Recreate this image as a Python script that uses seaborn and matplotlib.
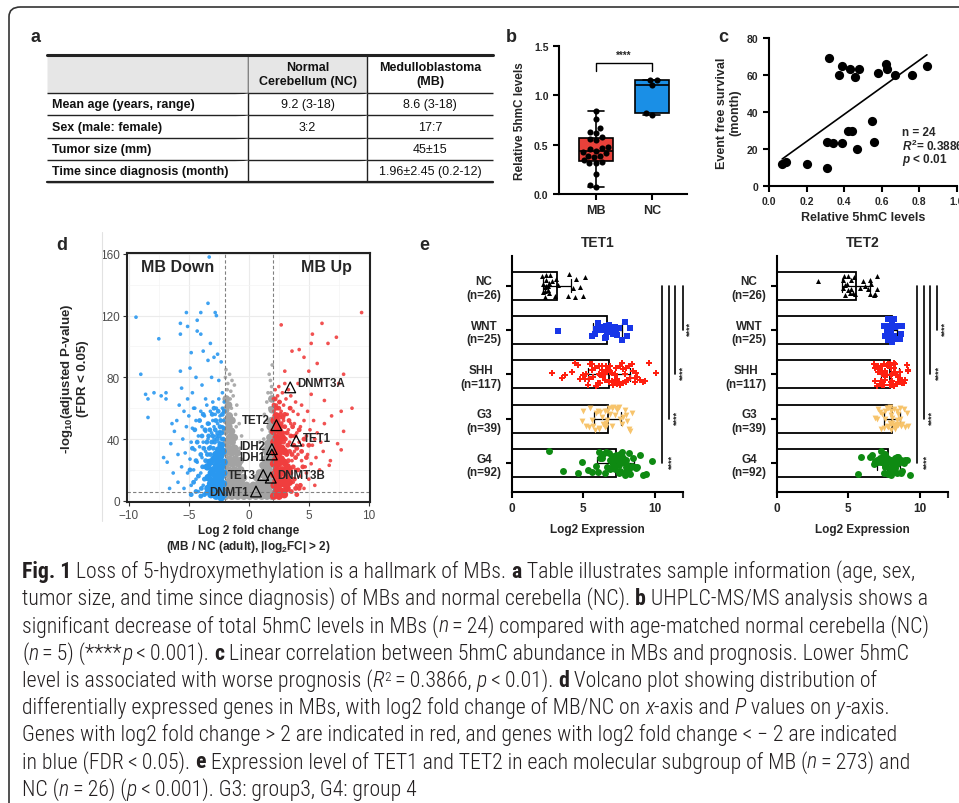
import matplotlib
matplotlib.use('Agg')
import numpy as np
import pandas as pd
import matplotlib.pyplot as plt
import seaborn as sns
from matplotlib import font_manager
from matplotlib.font_manager import FontProperties
from matplotlib.patches import FancyBboxPatch
from matplotlib.lines import Line2D

sns.set_style('ticks')
plt.rcParams['font.family'] = ['Liberation Sans', 'DejaVu Sans']
plt.rcParams['mathtext.fontset'] = 'custom'
plt.rcParams['mathtext.rm'] = 'Liberation Sans:bold'
plt.rcParams['mathtext.it'] = 'Liberation Sans:italic:bold'
plt.rcParams['mathtext.bf'] = 'Liberation Sans:bold'
np.random.seed(7)  # only for strip jitter

# ---------------- data ----------------
# a: sample table
table_cols = ['', 'Normal\nCerebellum (NC)', 'Medulloblastoma\n(MB)']
table_rows = [
    ['Mean age (years, range)', '9.2 (3-18)', '8.6 (3-18)'],
    ['Sex (male: female)', '3:2', '17:7'],
    ['Tumor size (mm)', '', '45\u00b115'],
    ['Time since diagnosis (month)', '', '1.96\u00b12.45 (0.2-12)'],
]

# b/c: 5hmC levels of MB samples and event free survival
hmc_mb = [0.07, 0.09, 0.20, 0.31, 0.31, 0.32, 0.34, 0.37, 0.39, 0.39, 0.42, 0.43,
          0.44, 0.46, 0.47, 0.48, 0.55, 0.56, 0.58, 0.62, 0.63, 0.67, 0.76, 0.84]
efs_month = [12, 13, 12, 10, 24, 69, 23, 60, 23, 65, 30, 63,
             30, 59, 20, 63, 35, 24, 61, 66, 63, 60, 60, 65]
hmc_nc = [0.80, 0.82, 1.10, 1.16, 1.16]

# d: volcano (log2FC, -log10 padj), split by point density of the reference
gray_core = [(-1.92, 3), (-1.88, 10), (-1.93, 17), (-1.87, 24), (-1.91, 31), (-1.86, 38), (-1.94, 45),
             (-1.89, 52), (-1.92, 59), (-1.88, 66), (-1.66, 6), (-1.62, 13), (-1.68, 20), (-1.63, 27),
             (-1.67, 34), (-1.61, 41), (-1.66, 48), (-1.63, 55), (-1.69, 62), (-1.41, 3), (-1.38, 10),
             (-1.43, 17), (-1.37, 24), (-1.42, 31), (-1.39, 38), (-1.44, 45), (-1.4, 52), (-1.16, 6),
             (-1.13, 13), (-1.18, 20), (-1.12, 27), (-1.17, 34), (-1.21, 41), (-0.91, 3), (-0.88, 10),
             (-0.93, 17), (-0.87, 24), (-0.95, 31), (-0.66, 6), (-0.63, 13), (-0.68, 20), (-0.72, 26),
             (-0.41, 3), (-0.38, 9), (-0.44, 15), (-0.16, 4), (-0.2, 10), (0.08, 3), (0.05, 7),
             (0.33, 4), (0.38, 10), (0.58, 3), (0.62, 9), (0.66, 15), (0.84, 6), (0.87, 12), (0.9, 18),
             (1.08, 3), (1.11, 10), (1.14, 17), (1.18, 23), (1.32, 6), (1.35, 13), (1.31, 20), (1.36, 27),
             (1.4, 33), (1.52, 3), (1.55, 10), (1.51, 17), (1.56, 24), (1.53, 31), (1.58, 37), (1.71, 6),
             (1.74, 13), (1.7, 20), (1.75, 27), (1.72, 34), (1.76, 41), (1.78, 48), (1.92, 3), (1.89, 10),
             (1.94, 17), (1.9, 24), (1.93, 31), (1.88, 38), (1.95, 45), (1.91, 52), (1.94, 59), (1.92, 66)]
gray_cloud = [(-1.9, 85), (-1.6, 82), (-1.4, 78), (-1.2, 75), (-1.75, 76), (-1.5, 71), (-1.95, 80),
              (-1.3, 68), (-1.0, 62), (-1.1, 56), (1.7, 82), (1.8, 78), (1.9, 74), (1.6, 70), (1.95, 88),
              (1.5, 64), (1.3, 56), (-0.8, 50), (-0.6, 42), (1.1, 46), (0.9, 38), (-1.55, 66), (1.85, 70),
              (-1.8, 72), (-1.45, 60), (-1.05, 48), (-0.75, 34), (1.25, 40), (1.6, 52), (1.75, 60)]
blue_core = [(-2.08, 4), (-2.12, 11), (-2.1, 18), (-2.07, 25), (-2.15, 32), (-2.3, 2), (-2.28, 8),
             (-2.33, 15), (-2.27, 22), (-2.35, 29), (-2.3, 36), (-2.5, 5), (-2.52, 12), (-2.48, 19),
             (-2.55, 26), (-2.5, 33), (-2.72, 3), (-2.7, 9), (-2.75, 16), (-2.68, 23), (-2.74, 30),
             (-2.95, 6), (-2.92, 13), (-2.97, 20), (-2.9, 27), (-3.15, 4), (-3.18, 11), (-3.12, 18),
             (-3.2, 25), (-3.4, 8), (-3.38, 15), (-3.45, 22)]
blue_mid = [(-4.9, 20), (-4.7, 34), (-4.6, 12), (-4.5, 46), (-4.4, 26), (-4.3, 38), (-4.2, 16),
            (-4.1, 52), (-4.0, 30), (-3.95, 8), (-3.9, 42), (-3.85, 22), (-3.8, 56), (-3.75, 34),
            (-3.7, 14), (-3.65, 46), (-3.6, 26), (-3.55, 5), (-3.5, 38), (-3.45, 30), (-3.4, 50),
            (-3.35, 42), (-3.3, 34), (-3.25, 46), (-3.2, 30), (-3.1, 38), (-3.05, 56), (-3.0, 42),
            (-2.95, 34), (-2.9, 60), (-2.85, 38), (-2.8, 46), (-2.75, 52), (-2.65, 40), (-2.6, 44),
            (-2.55, 58), (-2.45, 42), (-2.4, 48), (-2.35, 52), (-2.25, 44), (-2.2, 56), (-2.15, 40),
            (-2.1, 47), (-2.05, 58), (-4.8, 4), (-4.4, 6), (-4.0, 3), (-3.7, 4)]
blue_cloud = [(-9.4, 119), (-9.0, 82), (-8.6, 69), (-8.4, 66), (-8.4, 54), (-7.9, 70), (-7.5, 105),
              (-7.3, 68), (-6.9, 70), (-6.9, 66), (-7.1, 28), (-6.8, 25), (-6.5, 37), (-5.7, 108),
              (-5.7, 115), (-5.2, 122), (-5.1, 113), (-4.8, 96), (-4.0, 122), (-4.3, 117), (-4.0, 108),
              (-3.8, 97), (-3.4, 128), (-3.3, 158), (-2.8, 122), (-2.7, 120), (-4.9, 86), (-4.4, 80),
              (-5.7, 84), (-5.6, 73), (-5.4, 58), (-4.3, 110), (-3.2, 102), (-2.9, 93), (-2.6, 95),
              (-2.3, 90), (-3.4, 91), (-6.2, 45), (-6.0, 52), (-5.9, 30), (-6.3, 18), (-5.8, 62),
              (-4.7, 70), (-3.9, 75), (-3.1, 80), (-2.5, 78), (-2.2, 70), (-3.6, 66), (-4.5, 60),
              (-5.1, 66), (-5.9, 12), (-5.6, 22), (-5.5, 40), (-5.4, 8), (-5.3, 31), (-5.2, 48),
              (-5.1, 18), (-5.0, 55), (-4.9, 27), (-4.8, 38), (-4.8, 10), (-4.7, 47), (-4.6, 20),
              (-4.6, 60), (-4.5, 33), (-4.4, 14), (-4.4, 52), (-4.3, 25), (-4.2, 42), (-4.2, 6),
              (-4.1, 35), (-4.0, 18), (-4.0, 58), (-3.9, 28), (-3.9, 48), (-3.8, 10), (-3.8, 38),
              (-3.7, 22), (-3.7, 55), (-3.6, 32), (-3.6, 45), (-3.5, 15), (-3.5, 62), (-3.4, 26),
              (-3.4, 40), (-3.3, 50), (-3.3, 8), (-3.2, 35), (-3.2, 58), (-3.1, 44), (-3.0, 52),
              (-3.0, 64), (-2.9, 40), (-2.9, 48), (-2.8, 56), (-2.7, 42), (-2.7, 60), (-2.6, 50),
              (-2.5, 38), (-2.5, 66), (-2.4, 45), (-2.4, 55), (-2.3, 40), (-2.2, 48), (-2.2, 60),
              (-2.1, 52), (-2.1, 40), (-2.05, 64), (-6.4, 50), (-6.6, 8)]
red_core = [(2.08, 3), (2.12, 10), (2.1, 17), (2.07, 24), (2.14, 31), (2.1, 38), (2.06, 45), (2.12, 52),
            (2.3, 6), (2.28, 13), (2.33, 20), (2.27, 27), (2.35, 34), (2.3, 41), (2.32, 48), (2.28, 55),
            (2.52, 3), (2.5, 10), (2.55, 17), (2.48, 24), (2.53, 31), (2.5, 38), (2.56, 45), (2.74, 6),
            (2.72, 13), (2.77, 20), (2.7, 27), (2.75, 34), (2.78, 41), (2.96, 4), (2.94, 11), (2.99, 18),
            (2.92, 25), (2.97, 32), (3.18, 8), (3.15, 15), (3.2, 22), (3.38, 12), (3.35, 20)]
red_mid = [(2.1, 62), (2.2, 66), (2.3, 60), (2.45, 52), (2.5, 60), (2.6, 48), (2.65, 56), (2.7, 50),
           (2.8, 44), (2.85, 54), (2.9, 38), (3.0, 48), (3.05, 40), (3.1, 24), (3.15, 30), (3.2, 44),
           (3.25, 36), (3.3, 26), (3.35, 52), (3.4, 32), (3.5, 18), (3.5, 42), (3.55, 6), (3.6, 30),
           (3.65, 48), (3.7, 22), (3.75, 36), (3.8, 14), (3.85, 42), (3.9, 28), (4.0, 4), (4.0, 34),
           (4.1, 20), (4.2, 46), (4.3, 10), (4.4, 32), (4.5, 22), (4.6, 40), (4.8, 28), (5.0, 36),
           (3.45, 60), (3.0, 56), (2.55, 64), (4.2, 8), (3.9, 8)]
red_cloud = [(9.4, 122), (7.3, 106), (6.1, 115), (5.3, 108), (5.2, 102), (2.7, 114), (3.6, 97),
             (4.6, 93), (5.7, 89), (6.6, 102), (7.9, 82), (7.5, 76), (7.7, 58), (7.4, 37), (7.7, 33),
             (6.8, 26), (6.7, 23), (7.9, 45), (6.3, 65), (5.2, 69), (4.1, 76), (8.6, 60), (3.0, 84),
             (4.2, 98), (5.0, 84), (6.0, 78), (6.9, 55), (5.5, 40), (6.2, 32), (4.8, 18),
             (2.05, 66), (2.1, 58), (2.2, 72), (2.3, 62), (2.4, 68), (2.5, 74), (2.6, 64), (2.7, 58),
             (2.8, 70), (2.9, 62), (3.0, 76), (3.1, 66), (3.2, 56), (3.3, 72), (3.4, 60), (3.5, 50),
             (3.5, 68), (3.6, 42), (3.7, 58), (3.8, 32), (3.8, 50), (3.9, 20), (3.9, 64), (4.0, 44),
             (4.0, 10), (4.1, 30), (4.1, 56), (4.2, 38), (4.3, 16), (4.3, 48), (4.4, 26), (4.4, 62),
             (4.5, 36), (4.6, 8), (4.6, 52), (4.7, 22), (4.8, 42), (4.9, 30), (4.9, 58), (5.0, 14),
             (5.1, 46), (5.2, 24), (5.3, 36), (5.4, 52), (5.5, 10), (5.6, 28), (5.7, 44), (5.9, 20),
             (6.0, 38), (6.3, 50), (3.6, 26), (3.7, 12), (3.4, 38), (3.3, 46), (3.2, 30), (3.1, 8),
             (3.0, 44), (2.9, 52), (2.8, 48), (2.6, 54)]
nlp_cut = 6.0
genes = ['DNMT3A', 'TET2', 'TET1', 'IDH2', 'IDH1', 'TET3', 'DNMT3B', 'DNMT1']
gene_lfc = [3.45, 2.3, 3.95, 1.92, 1.92, 1.2, 1.83, 0.6]
gene_nlp = [73.5, 49, 39, 33.5, 30, 16.7, 15, 6]
gene_side = ['r', 'l', 'r', 'l', 'l', 'l', 'r', 'l']
gene_dy = [3, 4, 2, 2, -2, 0, 2, 0]

# e: TET1 / TET2 log2 expression per subgroup
group_labels = ['NC\n(n=26)', 'WNT\n(n=25)', 'SHH\n(n=117)', 'G3\n(n=39)', 'G4\n(n=92)']
tet1 = [
    [2.1, 2.2, 2.2, 2.3, 2.3, 2.3, 2.4, 2.4, 2.4, 2.5, 2.5, 2.6, 2.6, 2.7, 2.8, 3.0, 3.1, 3.2,
     3.9, 4.0, 4.3, 4.4, 4.5, 4.8, 5.0, 5.1],
    [3.2, 5.6, 5.8, 5.9, 6.0, 6.1, 6.2, 6.3, 6.4, 6.5, 6.6, 6.6, 6.7, 6.8, 6.9, 7.0, 7.1, 7.2,
     7.3, 7.4, 7.5, 7.7, 7.9, 8.1, 8.3],
    [2.8, 3.5, 3.7, 4.2, 4.4, 4.6, 4.8, 5.0, 5.1, 5.3, 5.4, 5.5, 5.6, 5.7, 5.8, 5.9, 6.0, 6.0,
     6.1, 6.2, 6.3, 6.3, 6.4, 6.5, 6.5, 6.6, 6.7, 6.7, 6.8, 6.9, 6.9, 7.0, 7.0, 7.1, 7.2, 7.2,
     7.3, 7.4, 7.4, 7.5, 7.6, 7.7, 7.8, 7.8, 7.9, 8.0, 8.1, 8.2, 8.3, 8.4, 8.5, 8.6, 8.7, 8.8,
     9.0, 9.2, 9.3, 9.6, 10.1, 5.2, 5.6, 6.2, 6.4, 6.8, 7.1, 7.6, 8.0, 8.6, 6.1, 7.3],
    [4.9, 5.0, 5.2, 5.4, 5.5, 5.6, 5.7, 5.8, 5.9, 6.0, 6.1, 6.1, 6.2, 6.3, 6.4, 6.5, 6.5, 6.6,
     6.6, 6.7, 6.7, 6.8, 6.9, 7.0, 7.0, 7.1, 7.2, 7.3, 7.4, 7.5, 7.6, 7.7, 7.8, 7.9, 8.0, 8.1,
     8.2, 8.3, 8.4],
    [2.6, 3.6, 4.6, 4.9, 5.3, 5.6, 5.9, 6.0, 6.1, 6.2, 6.3, 6.4, 6.5, 6.6, 6.7, 6.8, 6.9, 7.0,
     7.0, 7.1, 7.1, 7.2, 7.2, 7.3, 7.3, 7.4, 7.4, 7.5, 7.5, 7.6, 7.6, 7.7, 7.7, 7.8, 7.8, 7.9,
     7.9, 8.0, 8.0, 8.1, 8.1, 8.2, 8.2, 8.3, 8.4, 8.5, 8.6, 8.7, 8.8, 9.0, 9.2, 9.4, 9.8,
     7.5, 7.7, 7.9, 8.0, 7.2, 6.9, 7.4],
]
tet2 = [
    [2.9, 4.6, 4.6, 4.7, 4.8, 4.8, 4.9, 5.0, 5.0, 5.1, 5.2, 5.2, 5.3, 5.4, 5.5, 5.8, 6.0, 6.2,
     6.4, 6.5, 6.5, 6.6, 6.8, 6.9, 7.0, 7.0],
    [7.5, 7.6, 7.7, 7.7, 7.8, 7.8, 7.9, 7.9, 7.9, 8.0, 8.0, 8.0, 8.0, 8.1, 8.1, 8.1, 8.2, 8.2,
     8.3, 8.3, 8.4, 8.5, 8.6, 8.7, 8.8],
    [6.8, 6.9, 7.0, 7.1, 7.1, 7.2, 7.2, 7.3, 7.3, 7.4, 7.4, 7.5, 7.5, 7.5, 7.6, 7.6, 7.7, 7.7,
     7.7, 7.8, 7.8, 7.8, 7.9, 7.9, 7.9, 8.0, 8.0, 8.0, 8.1, 8.1, 8.1, 8.2, 8.2, 8.3, 8.3, 8.4,
     8.4, 8.5, 8.5, 8.6, 8.7, 8.8, 8.9, 9.0, 9.1, 9.2, 7.4, 7.6, 8.0, 8.2, 8.6, 9.2, 6.9, 7.0],
    [6.9, 7.1, 7.2, 7.3, 7.4, 7.5, 7.6, 7.7, 7.7, 7.8, 7.8, 7.9, 7.9, 8.0, 8.0, 8.0, 8.1, 8.1,
     8.2, 8.2, 8.3, 8.3, 8.4, 8.4, 8.5, 8.5, 8.6, 8.6, 8.7, 8.8, 8.9, 9.0, 9.1, 9.2, 7.0, 7.6,
     8.0, 8.2, 8.4],
    [5.7, 5.9, 6.5, 6.7, 6.8, 6.9, 7.0, 7.1, 7.2, 7.3, 7.3, 7.4, 7.4, 7.5, 7.5, 7.6, 7.6, 7.7,
     7.7, 7.8, 7.8, 7.9, 7.9, 8.0, 8.0, 8.1, 8.1, 8.2, 8.2, 8.3, 8.3, 8.4, 8.4, 8.5, 8.6, 8.7,
     8.8, 8.9, 9.0, 9.1, 9.3, 7.6, 7.9, 8.1, 8.4, 8.7],
]
grp_markers = ['^', 's', 'P', 'v', 'o']
grp_colors = ['black', '#1836e8', '#ff2010', '#f7c46c', '#0e8a12']
grp_sizes = [3.6, 4.2, 4.6, 4.2, 5.0]

caption_lines = [
    [('Fig. 1', 'b'), (' Loss of 5-hydroxymethylation is a hallmark of MBs. ', 'r'), ('a', 'b'),
     (' Table illustrates sample information (age, sex,', 'r')],
    [('tumor size, and time since diagnosis) of MBs and normal cerebella (NC). ', 'r'), ('b', 'b'),
     (' UHPLC-MS/MS analysis shows a', 'r')],
    [('significant decrease of total 5hmC levels in MBs (', 'r'), ('n', 'i'),
     ('\u2009=\u200924) compared with age-matched normal cerebella (NC)', 'r')],
    [('(', 'r'), ('n', 'i'), ('\u2009=\u20095) (****', 'r'), ('p', 'i'), ('\u2009<\u20090.001). ', 'r'),
     ('c', 'b'), (' Linear correlation between 5hmC abundance in MBs and prognosis. Lower 5hmC', 'r')],
    [('level is associated with worse prognosis (', 'r'), ('R', 'i'), ('2', 'sup'),
     ('\u2009=\u20090.3866, ', 'r'), ('p', 'i'), ('\u2009<\u20090.01). ', 'r'), ('d', 'b'),
     (' Volcano plot showing distribution of', 'r')],
    [('differentially expressed genes in MBs, with log2 fold change of MB/NC on ', 'r'), ('x', 'i'),
     ('-axis and ', 'r'), ('P', 'i'), (' values on ', 'r'), ('y', 'i'), ('-axis.', 'r')],
    [('Genes with log2 fold change > 2 are indicated in red, and genes with log2 fold change < \u2212 2 are indicated', 'r')],
    [('in blue (FDR\u2009<\u20090.05). ', 'r'), ('e', 'b'),
     (' Expression level of TET1 and TET2 in each molecular subgroup of MB (', 'r'), ('n', 'i'),
     ('\u2009=\u2009273) and', 'r')],
    [('NC (', 'r'), ('n', 'i'), ('\u2009=\u200926) (', 'r'), ('p', 'i'),
     ('\u2009<\u20090.001). G3: group3, G4: group 4', 'r')],
]

# ---------------- figure ----------------
W, H = 959, 804
fig = plt.figure(figsize=(W / 100, H / 100), dpi=100)
fig.patch.set_facecolor('white')


def px_axes(l, t, r, b):
    return fig.add_axes([l / W, 1 - b / H, (r - l) / W, (b - t) / H])


def bold_ticks(ax):
    for t in ax.get_xticklabels() + ax.get_yticklabels():
        t.set_fontweight('bold')


def prism_axes(ax):
    sns.despine(ax=ax)
    for s in ['left', 'bottom']:
        ax.spines[s].set_linewidth(1.5)
        ax.spines[s].set_color('black')
    ax.tick_params(width=1.5, length=4, color='black', labelsize=7.5)


# outer frame
frame = FancyBboxPatch((9 / W, -0.1), 1.2, 1.1 - 8 / H, boxstyle='round,pad=0,rounding_size=0.012',
                       transform=fig.transFigure, fill=False, ec='#333333', lw=1.2)
fig.add_artist(frame)

# panel letters
for lab, (x, y) in {'a': (30, 38), 'b': (506, 37), 'c': (718, 37), 'd': (56, 245), 'e': (419, 245)}.items():
    fig.text(x / W, 1 - y / H, lab, fontsize=13, fontweight='bold', va='center', ha='left')

# ---- a: table ----
ax_t = px_axes(47, 56, 493, 183)
ax_t.axis('off')
tab = ax_t.table(cellText=table_rows, colLabels=table_cols, colWidths=[201, 119, 126],
                 bbox=[0, 0, 1, 1], cellLoc='center')
tab.auto_set_font_size(False)
for (r, c), cell in tab.get_celld().items():
    cell.set_height(38 if r == 0 else 22)
    cell.set_linewidth(1.0)
    cell.set_edgecolor('#222222')
    cell.visible_edges = 'B' + ('R' if c < 2 else '') + ('T' if r == 0 else '')
    txt = cell.get_text()
    txt.set_fontsize(9)
    txt.set_color('#111111')
    if r == 0:
        cell.set_facecolor('#e6e6e6')
        txt.set_fontweight('bold')
        txt.set_multialignment('center')
    if c == 0:
        cell.PAD = 0.025
        txt.set_horizontalalignment('left')
        txt.set_fontweight('bold')
ax_t.axhline(1, color='#222222', lw=2.2, clip_on=False)
ax_t.axhline(0, color='#222222', lw=1.6, clip_on=False)

# ---- b: boxplot ----
ax_b = px_axes(559, 47, 687, 195)
df_b = pd.DataFrame({'group': ['MB'] * len(hmc_mb) + ['NC'] * len(hmc_nc), 'level': hmc_mb + hmc_nc})
sns.boxplot(data=df_b, x='group', y='level', hue='group', order=['MB', 'NC'],
            palette={'MB': '#e8413a', 'NC': '#1a8fe6'}, whis=(0, 100), width=0.6, linecolor='black',
            linewidth=1.2, showfliers=False, saturation=1, legend=False, ax=ax_b)
sns.swarmplot(data=df_b, x='group', y='level', order=['MB', 'NC'], color='black', size=4.4, ax=ax_b)
ax_b.set_xlim(-0.66, 1.63)
ax_b.set_ylim(0, 1.5)
ax_b.set_yticks([0, 0.5, 1.0, 1.5], ['0.0', '0.5', '1.0', '1.5'])
ax_b.plot([0, 0, 1, 1], [1.25, 1.33, 1.33, 1.25], color='black', lw=1)
ax_b.text(0.5, 1.36, '****', ha='center', va='bottom', fontsize=7, fontweight='bold')
ax_b.set_xlabel('')
ax_b.set_ylabel('Relative 5hmC levels', fontsize=8.5, fontweight='bold', labelpad=6)
prism_axes(ax_b)
ax_b.tick_params(axis='x', labelsize=9)
bold_ticks(ax_b)

# ---- c: correlation ----
ax_c = px_axes(769, 39, 957, 187)
sns.regplot(x=np.array(hmc_mb), y=np.array(efs_month), ci=None, ax=ax_c,
            scatter_kws=dict(s=44, color='black', alpha=1, linewidths=0),
            line_kws=dict(color='black', lw=1.2))
ax_c.set_xlim(0, 1.0)
ax_c.set_ylim(0, 80)
ax_c.set_xticks([0, 0.2, 0.4, 0.6, 0.8, 1.0], ['0.0', '0.2', '0.4', '0.6', '0.8', '1.0'])
ax_c.set_yticks([0, 20, 40, 60, 80])
ax_c.set_xlabel('Relative 5hmC levels', fontsize=9, fontweight='bold', labelpad=3)
ax_c.set_ylabel('Event free survival\n(month)', fontsize=9, fontweight='bold', labelpad=4)
for k, s in enumerate(['n = 24', '$R^2$= 0.3886', '$p$ < 0.01']):
    ax_c.text(0.71, 29.0 - 7.3 * k, s, fontsize=8.5, fontweight='bold', va='center', ha='left')
prism_axes(ax_c)
bold_ticks(ax_c)

# ---- d: volcano ----
ax_d = px_axes(127, 254, 370, 503)
rows = []
for grp, tier, pts in [('ns', 'core', gray_core), ('ns', 'cloud', gray_cloud),
                       ('down', 'core', blue_core), ('down', 'mid', blue_mid), ('down', 'cloud', blue_cloud),
                       ('up', 'core', red_core), ('up', 'mid', red_mid), ('up', 'cloud', red_cloud)]:
    rows += [(x, y, grp, tier) for x, y in pts]
df_v = pd.DataFrame(rows, columns=['lfc', 'nlp', 'grp', 'tier'])
vpal = {'ns': '#a3a3a3', 'down': '#2a98f0', 'up': '#f03e3e'}
ax_d.set_axisbelow(True)
ax_d.grid(which='major', color='#ebebeb', lw=0.8)
ax_d.grid(which='minor', color='#f4f4f4', lw=0.5)
for tier, size, alpha in [('core', 30, 1.0), ('mid', 12, 0.95), ('cloud', 7, 0.9)]:
    sns.scatterplot(data=df_v[df_v.tier == tier], x='lfc', y='nlp', hue='grp', palette=vpal, s=size,
                    linewidth=0, alpha=alpha, legend=False, ax=ax_d)
for v in (-2, 2):
    ax_d.axvline(v, color='#808080', lw=0.8, ls=(0, (3, 2)))
ax_d.axhline(nlp_cut, color='#808080', lw=0.8, ls=(0, (3, 2)))
ax_d.scatter(gene_lfc, gene_nlp, marker='^', s=60, facecolors='none', edgecolors='black', linewidths=0.9, zorder=5)
for g, x, y, side, dy in zip(genes, gene_lfc, gene_nlp, gene_side, gene_dy):
    ax_d.annotate(g, (x, y), xytext=(5 if side == 'r' else -5, dy), textcoords='offset points',
                  ha='left' if side == 'r' else 'right', va='center', fontsize=8.3, fontweight='bold', zorder=6)
ax_d.text(-5.9, 152, 'MB Down', ha='center', va='center', fontsize=11.5, fontweight='bold')
ax_d.text(6.5, 152, 'MB Up', ha='center', va='center', fontsize=11.5, fontweight='bold')
ax_d.set_xlim(-10.15, 10.1)
ax_d.set_ylim(-0.8, 160.6)
ax_d.set_xticks([-10, -5, 0, 5, 10])
ax_d.set_yticks([0, 40, 80, 120, 160])
ax_d.set_xticks([-7.5, -2.5, 2.5, 7.5], minor=True)
ax_d.set_yticks([20, 60, 100, 140], minor=True)
ax_d.tick_params(which='minor', length=0)
ax_d.tick_params(which='major', color='#333333', labelcolor='#4d4d4d', labelsize=8.5, length=3, width=0.8, pad=2)
for s in ax_d.spines.values():
    s.set_linewidth(1.5)
    s.set_color('#222222')
ax_d.set_xlabel('Log 2 fold change\n(MB / NC (adult), |log$_2$FC| > 2)', fontsize=8.5, fontweight='bold', labelpad=2)
ax_d.set_ylabel('-log$_{10}$(adjusted P-value)\n(FDR < 0.05)', fontsize=9.5, fontweight='bold', labelpad=8)
fig.add_artist(Line2D([102 / W, 102 / W], [1 - 233 / H, 1 - 522 / H], color='#e2e2e2', lw=0.8))


# ---- e: TET1 / TET2 ----
def expr_panel(ax, title, values, sig_x, star_x):
    rows = []
    for g, vals in zip(group_labels, values):
        rows += [(g, v) for v in vals]
    df = pd.DataFrame(rows, columns=['group', 'expr'])
    sns.barplot(data=df, x='expr', y='group', order=group_labels, color='white', edgecolor='black',
                linewidth=1.3, width=0.63, errorbar='sd', capsize=0.3, saturation=1,
                err_kws={'color': 'black', 'linewidth': 0.9}, ax=ax)
    for g, mk, col, sz in zip(group_labels, grp_markers, grp_colors, grp_sizes):
        sns.stripplot(data=df[df.group == g], x='expr', y='group', order=group_labels, marker=mk,
                      color=col, size=sz, jitter=0.27, linewidth=0, ax=ax, zorder=3)
    for i, (xl, xs) in enumerate(zip(sig_x, star_x)):
        yb = len(group_labels) - 1 - i
        ax.plot([xl, xl], [0, yb], color='black', lw=1.2, clip_on=False)
        ax.text(xs, yb - 0.05, '****', rotation=90, ha='center', va='center', fontsize=6.5,
                fontweight='bold', clip_on=False)
    ax.set_xlim(0, 12)
    ax.set_ylim(4.65, -0.67)
    ax.set_xticks([0, 5, 10])
    ax.set_xticks([12], minor=True)
    ax.set_title(title, fontsize=10, fontweight='bold', pad=7)
    ax.set_xlabel('Log2 Expression', fontsize=8.5, fontweight='bold', labelpad=6)
    ax.set_ylabel('')
    prism_axes(ax)
    ax.tick_params(which='minor', width=1.5, length=4)
    ax.tick_params(axis='both', labelsize=8.5)
    bold_ticks(ax)
    for t in ax.get_yticklabels():
        t.set_multialignment('center')


ax_e1 = px_axes(512, 257, 683, 493)
expr_panel(ax_e1, 'TET1', tet1, [10.5, 11.0, 11.46, 11.97], [11.2, 11.55, 12.0, 12.5])
ax_e2 = px_axes(777, 257, 948, 493)
expr_panel(ax_e2, 'TET2', tet2, [9.84, 10.3, 10.75, 11.2], [10.5, 10.9, 11.35, 11.8])

# ---- caption ----
renderer = fig.canvas.get_renderer()


def as_weight(w):
    return w if isinstance(w, (int, float)) else font_manager.weight_dict.get(str(w).lower(), 400)


def condensed_font(bold=False, italic=False):
    pref = ['Liberation Sans Narrow', 'Roboto Condensed', 'Open Sans Condensed', 'Noto Sans Condensed',
            'DejaVu Sans Condensed', 'DejaVu Sans']
    target = 700 if bold else 300
    found = []
    for f in font_manager.fontManager.ttflist:
        narrow = ('Narrow' in f.name or 'Condensed' in f.name or 'Condensed' in f.fname
                  or f.stretch in ('condensed', 'semi-condensed'))
        if not narrow:
            continue
        if (f.style != 'normal') != italic:
            continue
        if (as_weight(f.weight) >= 600) != bold:
            continue
        rank = next((i for i, p in enumerate(pref) if f.name.startswith(p)), len(pref))
        found.append((rank, abs(as_weight(f.weight) - target), f.fname))
    if found:
        return FontProperties(fname=sorted(found)[0][2])
    return FontProperties(family='Liberation Sans', weight='bold' if bold else 'normal',
                          style='italic' if italic else 'normal')


cap_fonts = {'r': condensed_font(), 'b': condensed_font(bold=True), 'i': condensed_font(italic=True),
             'sup': condensed_font()}


def cap_kw(style, size):
    fp = cap_fonts[style].copy()
    fp.set_size(size * (0.62 if style == 'sup' else 1))
    return dict(fontproperties=fp, color='#231f20', va='baseline', ha='left')


def run_width(txt, kw):
    a = fig.text(0, 0, 'x' + txt + 'x', **kw)
    b = fig.text(0, 0, 'xx', **kw)
    w = a.get_window_extent(renderer).width - b.get_window_extent(renderer).width
    a.remove()
    b.remove()
    return w


w1 = sum(run_width(t, cap_kw(s, 10)) for t, s in caption_lines[0])
cap_size = 10 * (915 - 22) / w1
for i, runs in enumerate(caption_lines):
    x = 22
    y = 578 + i * 27.2
    for txt, st in runs:
        kw = cap_kw(st, cap_size)
        yy = y - (6 if st == 'sup' else 0)
        fig.text(x / W, 1 - yy / H, txt, **kw)
        x += run_width(txt, kw)

fig.savefig('out.png', dpi=100)
